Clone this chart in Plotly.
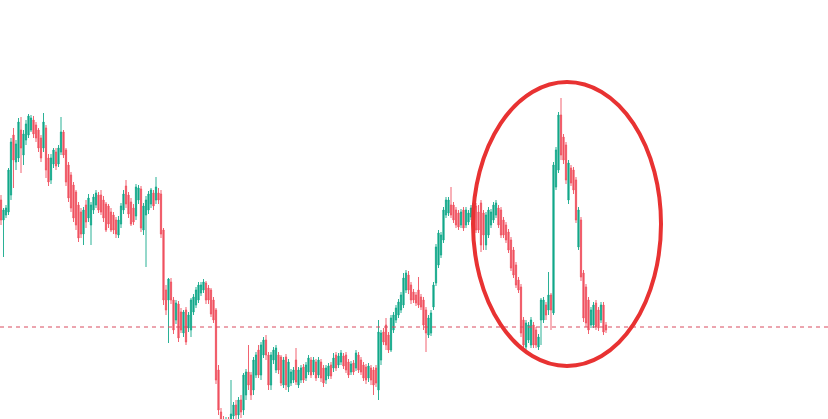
import plotly.graph_objects as go

# OHLC values (arbitrary price units)
opens = [300,280,285,288,305,365,338,342,370,345,360,365,370,380,375,370,362,352,372,342,
         320,336,348,336,348,368,350,335,325,315,308,295,288,266,295,282,275,290,295,305,
         305,300,296,294,288,285,280,265,276,290,314,305,298,292,284,300,311,270,285,290,
         296,307,300,307,306,270,210,200,218,200,180,196,188,167,190,172,170,188,195,200,
         207,210,217,212,210,200,190,130,88,80,70,80,72,84,95,85,100,90,105,128,
         125,110,125,150,125,145,160,145,115,140,130,145,143,115,143,113,117,120,140,115,
         120,133,122,128,140,128,138,125,138,132,120,124,135,132,145,135,138,144,145,138,
         128,137,132,145,140,135,133,122,132,130,132,110,140,168,175,165,150,170,180,185,
         190,195,210,225,215,208,205,210,203,200,190,165,167,193,217,235,245,260,285,287,
         295,295,290,287,275,290,275,278,283,280,294,288,297,287,255,265,275,280,285,292,
         290,280,275,268,260,250,235,220,213,180,153,160,155,175,170,153,180,180,195,190,
         205,187,313,330,385,363,355,300,332,330,320,253,280,227,213,200,175,175,197,190,
         180,195,175]
highs = [305,292,295,332,362,372,360,382,383,370,380,386,385,384,378,372,365,387,375,346,
         346,352,352,355,383,370,352,338,328,318,310,298,292,293,300,306,298,306,310,308,
         310,304,298,296,292,288,283,284,297,310,320,308,302,296,316,315,314,297,304,309,
         312,310,323,312,310,272,215,222,222,203,200,199,192,190,193,188,202,206,213,218,
         218,221,219,215,212,203,192,135,92,84,83,83,120,98,100,103,105,127,131,155,
         128,143,148,155,158,163,165,148,148,153,155,148,145,143,146,141,131,133,152,133,
         135,136,138,145,143,143,141,143,141,135,135,137,138,147,148,147,150,147,148,141,
         139,140,150,148,143,138,136,137,135,133,135,180,170,172,182,168,185,188,195,201,
         208,227,230,229,218,211,208,223,206,203,193,185,190,218,256,270,268,293,303,303,
         313,298,293,290,291,293,293,290,295,300,297,295,300,290,288,293,291,298,300,295,
         293,283,278,271,263,253,238,223,216,183,180,178,183,178,173,166,202,203,198,228,
         207,338,353,388,402,366,358,340,335,333,323,293,283,230,216,203,193,198,200,193,
         198,198,178]
lows = [275,243,282,285,300,312,330,338,327,335,355,362,368,362,358,348,338,348,322,314,
        316,332,330,333,345,342,314,298,288,278,270,258,262,255,272,278,255,286,292,287,
        285,278,268,272,268,266,262,262,272,286,292,282,274,275,280,296,268,265,233,286,
        292,290,296,296,262,195,185,157,196,166,176,158,167,163,155,168,163,185,192,197,
        204,207,196,196,183,177,116,85,70,68,66,68,68,78,80,80,82,85,100,110,
        100,105,122,122,120,142,140,110,110,136,127,126,114,112,110,108,114,117,115,112,
        117,117,119,125,122,125,119,122,118,113,116,121,121,128,129,132,135,131,127,122,
        125,125,129,127,125,119,116,118,115,105,113,100,135,155,150,147,148,167,177,182,
        187,192,207,206,196,197,194,192,190,170,148,162,164,190,214,232,242,257,282,284,
        282,277,272,270,272,269,272,275,280,277,267,267,248,250,250,262,272,277,282,272,
        262,262,257,247,229,222,212,207,163,152,150,157,152,152,152,150,155,177,180,185,
        170,185,310,327,340,336,316,296,314,306,277,250,219,178,173,166,172,172,170,169,
        177,165,167]
closes = [280,290,292,330,358,340,356,378,352,366,376,384,382,366,362,352,342,378,330,318,
          342,350,334,352,368,345,318,302,292,282,275,262,266,290,278,302,295,303,307,290,
          288,282,270,276,270,270,266,280,294,306,296,286,276,278,313,312,272,294,300,306,
          310,294,313,300,266,200,190,221,200,170,197,162,170,188,158,185,200,203,210,215,
          215,218,200,200,186,180,120,90,75,72,80,72,86,95,85,100,88,125,128,115,
          105,140,145,125,155,160,145,115,145,150,152,130,117,140,115,138,128,130,118,130,
          132,120,135,142,125,140,122,140,122,117,132,134,124,142,132,144,147,134,130,125,
          136,128,147,130,128,122,120,134,120,115,117,168,167,158,155,150,182,185,192,198,
          205,222,227,210,200,200,197,195,193,175,167,182,187,215,253,267,265,290,300,300,
          285,280,275,273,288,272,290,287,292,297,270,270,255,265,285,290,288,295,297,275,
          265,265,260,250,232,225,215,210,167,155,177,175,180,155,155,163,200,200,185,205,
          190,335,350,385,345,340,320,337,317,310,280,290,223,182,177,170,190,195,173,172,
          195,168,170]

candle_index = list(range(len(opens)))
reference_level = [173]

GREEN = "#12a88a"
RED = "#ef5160"

fig = go.Figure()
fig.add_trace(go.Candlestick(
    x=candle_index, open=opens, high=highs, low=lows, close=closes,
    increasing=dict(line=dict(color=GREEN, width=0.9), fillcolor=GREEN),
    decreasing=dict(line=dict(color=RED, width=0.9), fillcolor=RED),
    whiskerwidth=0, showlegend=False, hoverinfo="skip",
))

# dashed horizontal reference line
fig.add_shape(type="line", xref="paper", x0=0, x1=1, yref="y",
              y0=reference_level[0], y1=reference_level[0],
              line=dict(color="#d94a5e", width=1, dash="4px,4px"))

# ellipse highlight
fig.add_shape(type="circle", xref="paper", yref="paper",
              x0=473/828, x1=661/828, y0=1-366/419, y1=1-82/419,
              line=dict(color="#e83232", width=4))

fig.update_layout(
    width=828, height=419,
    margin=dict(l=0, r=0, t=0, b=0),
    paper_bgcolor="white", plot_bgcolor="white",
    xaxis=dict(range=[-0.4, 330.8], visible=False, rangeslider=dict(visible=False),
               showgrid=False, zeroline=False, fixedrange=True),
    yaxis=dict(range=[81, 500], visible=False, showgrid=False, zeroline=False),
    showlegend=False,
)

fig.write_html("out.html", config={"displayModeBar": False},
               post_script="document.body.style.margin='0';document.body.style.overflow='hidden';")
